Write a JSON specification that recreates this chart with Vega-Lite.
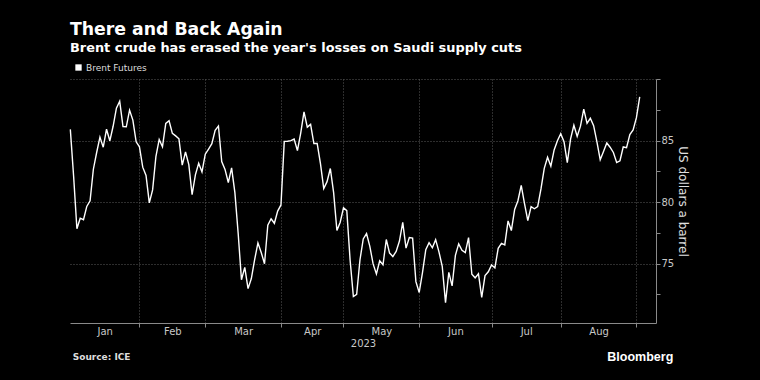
{
  "$schema": "https://vega.github.io/schema/vega-lite/v6.json",
  "width": 586,
  "height": 244,
  "autosize": "none",
  "padding": {"left": 70, "top": 79, "right": 104, "bottom": 57},
  "background": "#000000",
  "title": {
    "text": "There and Back Again",
    "subtitle": "Brent crude has erased the year's losses on Saudi supply cuts",
    "anchor": "start",
    "frame": "group",
    "color": "#ffffff",
    "font": "DejaVu Sans",
    "fontSize": 17.3,
    "fontWeight": "bold",
    "subtitleColor": "#ffffff",
    "subtitleFont": "DejaVu Sans",
    "subtitleFontSize": 12.9,
    "subtitleFontWeight": "bold",
    "subtitlePadding": 4,
    "offset": 8
  },
  "config": {
    "view": {"stroke": null},
    "axis": {
      "labelFont": "DejaVu Sans",
      "titleFont": "DejaVu Sans",
      "labelColor": "#c8c8c8",
      "titleColor": "#e0e0e0",
      "domainColor": "#8a8a8a",
      "tickColor": "#8a8a8a",
      "gridColor": "#5a5a5a",
      "gridDash": [1, 2],
      "labelFontSize": 10
    }
  },
  "datasets": {
    "brent": [
      {"i": 0, "d": "2022-12-30", "v": 85.91},
      {"i": 1, "d": "2023-01-03", "v": 82.10},
      {"i": 2, "d": "2023-01-04", "v": 77.84},
      {"i": 3, "d": "2023-01-05", "v": 78.69},
      {"i": 4, "d": "2023-01-06", "v": 78.57},
      {"i": 5, "d": "2023-01-09", "v": 79.65},
      {"i": 6, "d": "2023-01-10", "v": 80.10},
      {"i": 7, "d": "2023-01-11", "v": 82.67},
      {"i": 8, "d": "2023-01-12", "v": 84.03},
      {"i": 9, "d": "2023-01-13", "v": 85.28},
      {"i": 10, "d": "2023-01-16", "v": 84.46},
      {"i": 11, "d": "2023-01-17", "v": 85.92},
      {"i": 12, "d": "2023-01-18", "v": 84.98},
      {"i": 13, "d": "2023-01-19", "v": 86.16},
      {"i": 14, "d": "2023-01-20", "v": 87.63},
      {"i": 15, "d": "2023-01-23", "v": 88.19},
      {"i": 16, "d": "2023-01-24", "v": 86.13},
      {"i": 17, "d": "2023-01-25", "v": 86.12},
      {"i": 18, "d": "2023-01-26", "v": 87.47},
      {"i": 19, "d": "2023-01-27", "v": 86.66},
      {"i": 20, "d": "2023-01-30", "v": 84.90},
      {"i": 21, "d": "2023-01-31", "v": 84.49},
      {"i": 22, "d": "2023-02-01", "v": 82.84},
      {"i": 23, "d": "2023-02-02", "v": 82.17},
      {"i": 24, "d": "2023-02-03", "v": 79.94},
      {"i": 25, "d": "2023-02-06", "v": 80.99},
      {"i": 26, "d": "2023-02-07", "v": 83.69},
      {"i": 27, "d": "2023-02-08", "v": 85.09},
      {"i": 28, "d": "2023-02-09", "v": 84.50},
      {"i": 29, "d": "2023-02-10", "v": 86.39},
      {"i": 30, "d": "2023-02-13", "v": 86.61},
      {"i": 31, "d": "2023-02-14", "v": 85.58},
      {"i": 32, "d": "2023-02-15", "v": 85.38},
      {"i": 33, "d": "2023-02-16", "v": 85.14},
      {"i": 34, "d": "2023-02-17", "v": 83.00},
      {"i": 35, "d": "2023-02-20", "v": 84.07},
      {"i": 36, "d": "2023-02-21", "v": 83.05},
      {"i": 37, "d": "2023-02-22", "v": 80.60},
      {"i": 38, "d": "2023-02-23", "v": 82.21},
      {"i": 39, "d": "2023-02-24", "v": 83.16},
      {"i": 40, "d": "2023-02-27", "v": 82.45},
      {"i": 41, "d": "2023-02-28", "v": 83.89},
      {"i": 42, "d": "2023-03-01", "v": 84.31},
      {"i": 43, "d": "2023-03-02", "v": 84.75},
      {"i": 44, "d": "2023-03-03", "v": 85.83},
      {"i": 45, "d": "2023-03-06", "v": 86.18},
      {"i": 46, "d": "2023-03-07", "v": 83.29},
      {"i": 47, "d": "2023-03-08", "v": 82.66},
      {"i": 48, "d": "2023-03-09", "v": 81.59},
      {"i": 49, "d": "2023-03-10", "v": 82.78},
      {"i": 50, "d": "2023-03-13", "v": 80.77},
      {"i": 51, "d": "2023-03-14", "v": 77.45},
      {"i": 52, "d": "2023-03-15", "v": 73.69},
      {"i": 53, "d": "2023-03-16", "v": 74.70},
      {"i": 54, "d": "2023-03-17", "v": 72.97},
      {"i": 55, "d": "2023-03-20", "v": 73.79},
      {"i": 56, "d": "2023-03-21", "v": 75.32},
      {"i": 57, "d": "2023-03-22", "v": 76.69},
      {"i": 58, "d": "2023-03-23", "v": 75.91},
      {"i": 59, "d": "2023-03-24", "v": 74.99},
      {"i": 60, "d": "2023-03-27", "v": 78.12},
      {"i": 61, "d": "2023-03-28", "v": 78.65},
      {"i": 62, "d": "2023-03-29", "v": 78.28},
      {"i": 63, "d": "2023-03-30", "v": 79.27},
      {"i": 64, "d": "2023-03-31", "v": 79.77},
      {"i": 65, "d": "2023-04-03", "v": 84.93},
      {"i": 66, "d": "2023-04-04", "v": 84.94},
      {"i": 67, "d": "2023-04-05", "v": 84.99},
      {"i": 68, "d": "2023-04-06", "v": 85.12},
      {"i": 69, "d": "2023-04-10", "v": 84.18},
      {"i": 70, "d": "2023-04-11", "v": 85.61},
      {"i": 71, "d": "2023-04-12", "v": 87.33},
      {"i": 72, "d": "2023-04-13", "v": 86.09},
      {"i": 73, "d": "2023-04-14", "v": 86.31},
      {"i": 74, "d": "2023-04-17", "v": 84.76},
      {"i": 75, "d": "2023-04-18", "v": 84.77},
      {"i": 76, "d": "2023-04-19", "v": 83.12},
      {"i": 77, "d": "2023-04-20", "v": 81.10},
      {"i": 78, "d": "2023-04-21", "v": 81.66},
      {"i": 79, "d": "2023-04-24", "v": 82.73},
      {"i": 80, "d": "2023-04-25", "v": 80.77},
      {"i": 81, "d": "2023-04-26", "v": 77.69},
      {"i": 82, "d": "2023-04-27", "v": 78.37},
      {"i": 83, "d": "2023-04-28", "v": 79.54},
      {"i": 84, "d": "2023-05-01", "v": 79.31},
      {"i": 85, "d": "2023-05-02", "v": 75.32},
      {"i": 86, "d": "2023-05-03", "v": 72.33},
      {"i": 87, "d": "2023-05-04", "v": 72.50},
      {"i": 88, "d": "2023-05-05", "v": 75.30},
      {"i": 89, "d": "2023-05-08", "v": 77.01},
      {"i": 90, "d": "2023-05-09", "v": 77.44},
      {"i": 91, "d": "2023-05-10", "v": 76.41},
      {"i": 92, "d": "2023-05-11", "v": 74.98},
      {"i": 93, "d": "2023-05-12", "v": 74.17},
      {"i": 94, "d": "2023-05-15", "v": 75.23},
      {"i": 95, "d": "2023-05-16", "v": 74.91},
      {"i": 96, "d": "2023-05-17", "v": 76.96},
      {"i": 97, "d": "2023-05-18", "v": 75.86},
      {"i": 98, "d": "2023-05-19", "v": 75.58},
      {"i": 99, "d": "2023-05-22", "v": 75.99},
      {"i": 100, "d": "2023-05-23", "v": 76.84},
      {"i": 101, "d": "2023-05-24", "v": 78.36},
      {"i": 102, "d": "2023-05-25", "v": 76.26},
      {"i": 103, "d": "2023-05-26", "v": 77.12},
      {"i": 104, "d": "2023-05-29", "v": 77.07},
      {"i": 105, "d": "2023-05-30", "v": 73.54},
      {"i": 106, "d": "2023-05-31", "v": 72.66},
      {"i": 107, "d": "2023-06-01", "v": 74.28},
      {"i": 108, "d": "2023-06-02", "v": 76.13},
      {"i": 109, "d": "2023-06-05", "v": 76.71},
      {"i": 110, "d": "2023-06-06", "v": 76.29},
      {"i": 111, "d": "2023-06-07", "v": 76.95},
      {"i": 112, "d": "2023-06-08", "v": 75.96},
      {"i": 113, "d": "2023-06-09", "v": 74.79},
      {"i": 114, "d": "2023-06-12", "v": 71.84},
      {"i": 115, "d": "2023-06-13", "v": 74.29},
      {"i": 116, "d": "2023-06-14", "v": 73.20},
      {"i": 117, "d": "2023-06-15", "v": 75.67},
      {"i": 118, "d": "2023-06-16", "v": 76.61},
      {"i": 119, "d": "2023-06-19", "v": 76.09},
      {"i": 120, "d": "2023-06-20", "v": 75.90},
      {"i": 121, "d": "2023-06-21", "v": 77.12},
      {"i": 122, "d": "2023-06-22", "v": 74.14},
      {"i": 123, "d": "2023-06-23", "v": 73.85},
      {"i": 124, "d": "2023-06-26", "v": 74.18},
      {"i": 125, "d": "2023-06-27", "v": 72.26},
      {"i": 126, "d": "2023-06-28", "v": 74.03},
      {"i": 127, "d": "2023-06-29", "v": 74.34},
      {"i": 128, "d": "2023-06-30", "v": 74.90},
      {"i": 129, "d": "2023-07-03", "v": 74.65},
      {"i": 130, "d": "2023-07-04", "v": 76.25},
      {"i": 131, "d": "2023-07-05", "v": 76.65},
      {"i": 132, "d": "2023-07-06", "v": 76.52},
      {"i": 133, "d": "2023-07-07", "v": 78.47},
      {"i": 134, "d": "2023-07-10", "v": 77.69},
      {"i": 135, "d": "2023-07-11", "v": 79.40},
      {"i": 136, "d": "2023-07-12", "v": 80.11},
      {"i": 137, "d": "2023-07-13", "v": 81.36},
      {"i": 138, "d": "2023-07-14", "v": 79.87},
      {"i": 139, "d": "2023-07-17", "v": 78.50},
      {"i": 140, "d": "2023-07-18", "v": 79.63},
      {"i": 141, "d": "2023-07-19", "v": 79.46},
      {"i": 142, "d": "2023-07-20", "v": 79.64},
      {"i": 143, "d": "2023-07-21", "v": 81.07},
      {"i": 144, "d": "2023-07-24", "v": 82.74},
      {"i": 145, "d": "2023-07-25", "v": 83.64},
      {"i": 146, "d": "2023-07-26", "v": 82.92},
      {"i": 147, "d": "2023-07-27", "v": 84.24},
      {"i": 148, "d": "2023-07-28", "v": 84.99},
      {"i": 149, "d": "2023-07-31", "v": 85.56},
      {"i": 150, "d": "2023-08-01", "v": 84.91},
      {"i": 151, "d": "2023-08-02", "v": 83.20},
      {"i": 152, "d": "2023-08-03", "v": 85.14},
      {"i": 153, "d": "2023-08-04", "v": 86.24},
      {"i": 154, "d": "2023-08-07", "v": 85.34},
      {"i": 155, "d": "2023-08-08", "v": 86.17},
      {"i": 156, "d": "2023-08-09", "v": 87.55},
      {"i": 157, "d": "2023-08-10", "v": 86.40},
      {"i": 158, "d": "2023-08-11", "v": 86.81},
      {"i": 159, "d": "2023-08-14", "v": 86.21},
      {"i": 160, "d": "2023-08-15", "v": 84.89},
      {"i": 161, "d": "2023-08-16", "v": 83.45},
      {"i": 162, "d": "2023-08-17", "v": 84.12},
      {"i": 163, "d": "2023-08-18", "v": 84.80},
      {"i": 164, "d": "2023-08-21", "v": 84.46},
      {"i": 165, "d": "2023-08-22", "v": 84.03},
      {"i": 166, "d": "2023-08-23", "v": 83.21},
      {"i": 167, "d": "2023-08-24", "v": 83.36},
      {"i": 168, "d": "2023-08-25", "v": 84.48},
      {"i": 169, "d": "2023-08-28", "v": 84.42},
      {"i": 170, "d": "2023-08-29", "v": 85.49},
      {"i": 171, "d": "2023-08-30", "v": 85.86},
      {"i": 172, "d": "2023-08-31", "v": 86.86},
      {"i": 173, "d": "2023-09-01", "v": 88.55}
    ],
    "notes": [
      {"label": "Source: ICE"}
    ],
    "brand": [
      {"label": "Bloomberg"}
    ]
  },
  "layer": [
    {
      "data": {"name": "brent"},
      "mark": {"type": "line", "color": "#ffffff", "strokeWidth": 1.4, "strokeJoin": "miter"},
      "encoding": {
        "x": {
          "field": "i", "type": "quantitative",
          "scale": {"domain": [-0.1, 177.95], "nice": false, "zero": false},
          "axis": {
            "orient": "bottom",
            "values": [21, 41, 64, 83, 106, 128, 149, 172],
            "labels": false, "title": null,
            "grid": true, "ticks": true, "tickSize": 4, "domain": true
          }
        },
        "y": {
          "field": "v", "type": "quantitative",
          "scale": {"domain": [70.18, 90], "nice": false, "zero": false},
          "axis": {
            "orient": "right",
            "values": [75, 80, 85, 90],
            "labelExpr": "datum.value == 90 ? '' : datum.label",
            "grid": true, "ticks": true, "tickSize": 4, "labelPadding": 1,
            "title": "US dollars a barrel", "titleFontSize": 12, "titleFontWeight": "normal",
            "titlePadding": 2, "titleAngle": 90
          }
        },
        "color": {
          "datum": "Brent Futures",
          "scale": {"range": ["#ffffff"]},
          "legend": {
            "orient": "none", "legendX": 4, "legendY": -16,
            "title": null, "symbolType": "square", "symbolSize": 40,
            "symbolFillColor": "#ffffff", "symbolStrokeWidth": 0,
            "labelColor": "#dddddd", "labelFont": "DejaVu Sans", "labelFontSize": 9,
            "labelOffset": 3, "padding": 0
          }
        }
      }
    },
    {
      "data": {"name": "brent"},
      "mark": {"type": "line", "strokeOpacity": 0},
      "encoding": {
        "x": {
          "field": "i", "type": "quantitative",
          "scale": {"domain": [-0.1, 177.95], "nice": false, "zero": false},
          "axis": {
            "orient": "bottom",
            "values": [10.45, 31, 52.5, 73.5, 94.5, 117, 138.5, 160.5],
            "labelExpr": "datum.value < 20 ? 'Jan' : datum.value < 40 ? 'Feb' : datum.value < 60 ? 'Mar' : datum.value < 80 ? 'Apr' : datum.value < 100 ? 'May' : datum.value < 125 ? 'Jun' : datum.value < 145 ? 'Jul' : 'Aug'",
            "grid": false, "ticks": false, "domain": false,
            "labelPadding": 3,
            "title": "2023", "titleFontSize": 10, "titleFontWeight": "normal",
            "titleColor": "#c8c8c8", "titlePadding": 2
          }
        },
        "y": {
          "field": "v", "type": "quantitative",
          "scale": {"domain": [70.18, 90], "nice": false, "zero": false},
          "axis": {
            "orient": "right",
            "values": [72.5, 77.5, 82.5, 87.5],
            "labels": false, "grid": false, "domain": false,
            "ticks": true, "tickSize": 4, "title": null
          }
        }
      }
    },
    {
      "data": {"name": "notes"},
      "mark": {"type": "text", "align": "left", "baseline": "middle",
               "font": "DejaVu Sans", "fontSize": 9, "fontWeight": "bold", "color": "#dddddd"},
      "encoding": {
        "text": {"field": "label", "type": "nominal"},
        "x": {"datum": 0.73, "type": "quantitative", "axis": null},
        "y": {"datum": 67.4, "type": "quantitative", "axis": null}
      }
    },
    {
      "data": {"name": "brand"},
      "mark": {"type": "text", "align": "right", "baseline": "middle",
               "font": "Liberation Sans", "fontSize": 12.5, "fontWeight": "bold", "color": "#ffffff"},
      "encoding": {
        "text": {"field": "label", "type": "nominal"},
        "x": {"datum": 183.2, "type": "quantitative", "axis": null},
        "y": {"datum": 67.4, "type": "quantitative", "axis": null}
      }
    }
  ],
  "resolve": {"axis": {"x": "independent", "y": "independent"}}
}
